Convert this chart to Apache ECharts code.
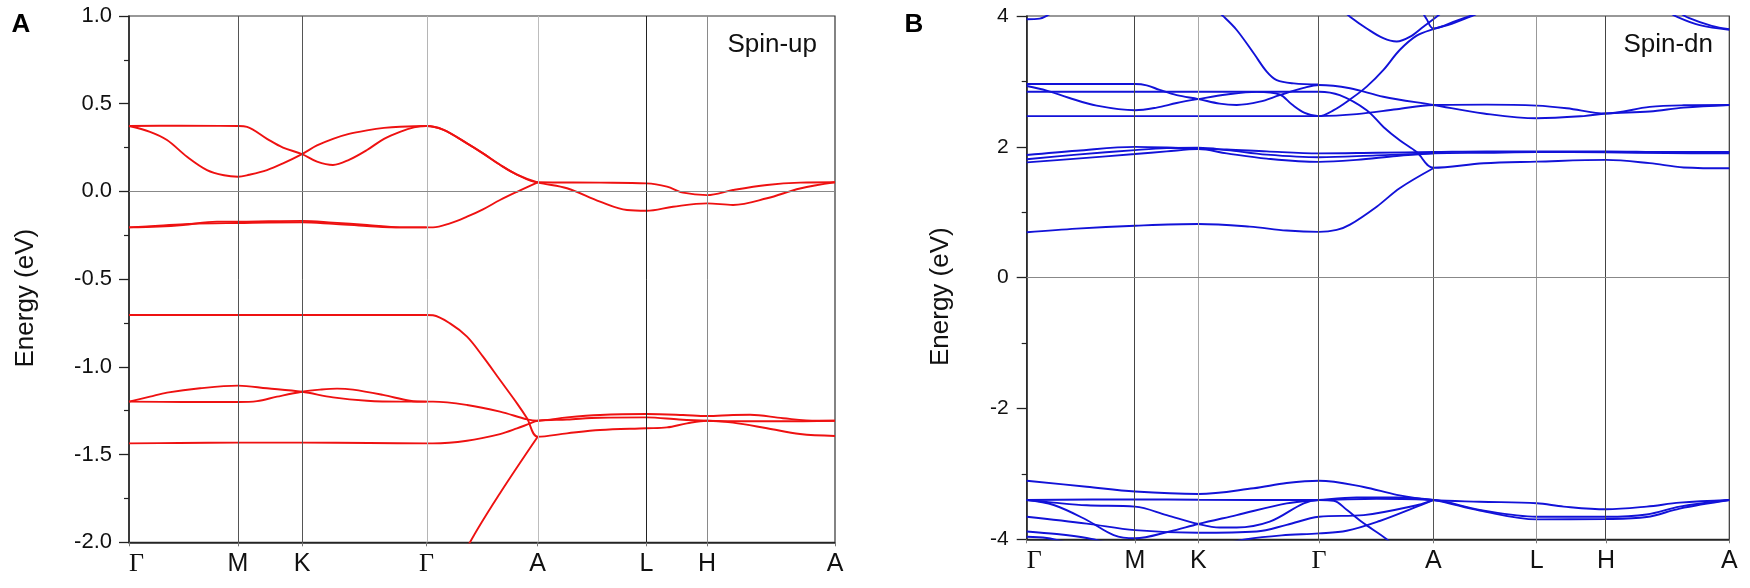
<!DOCTYPE html>
<html><head><meta charset="utf-8">
<script src="https://cdn.jsdelivr.net/npm/echarts@6/dist/echarts.min.js"></script>
<style>html,body{margin:0;padding:0;background:#fff}#c{width:1750px;height:588px}</style>
</head><body><div id="c"></div>
<script>
// ---- high-symmetry path labels and positions ----
const kLabels = ['Γ','M','K','Γ','A','L','H','A'];
const kTicksA = [0, 1.09, 1.73, 2.975, 4.087, 5.175, 5.78, 7.06];
const kTicksB = [0, 1.083, 1.716, 2.923, 4.066, 5.10, 5.793, 7.026];
const yTicksA = [-2.0, -1.5, -1.0, -0.5, 0.0, 0.5, 1.0];
const yTicksB = [-4, -2, 0, 2, 4];

// ---- Spin-up bands (panel A) ----
const up1 = [[0,0.373],[0.5,0.375],[1.09,0.373],[1.18,0.368],[1.38,0.30],[1.54,0.25],[1.73,0.213],[1.88,0.17],[2.04,0.151],[2.2,0.18],[2.38,0.236],[2.55,0.30],[2.71,0.34],[2.85,0.365],[2.975,0.373],[3.14,0.352],[3.38,0.274],[3.54,0.217],[3.71,0.152],[3.88,0.096],[4.087,0.052],[4.71,0.05],[5.175,0.046],[5.38,0.027],[5.54,-0.007],[5.78,-0.021],[6.04,0.008],[6.38,0.037],[6.71,0.05],[7.06,0.052]];
const up2 = [[0,0.373],[0.21,0.34],[0.38,0.293],[0.58,0.198],[0.78,0.122],[0.95,0.092],[1.09,0.084],[1.2,0.095],[1.38,0.122],[1.54,0.16],[1.73,0.213],[1.88,0.262],[2.04,0.300],[2.2,0.328],[2.38,0.348],[2.55,0.362],[2.71,0.369],[2.975,0.373],[3.14,0.352],[3.38,0.274],[3.54,0.217],[3.71,0.152],[3.88,0.096],[4.087,0.052],[4.38,0.018],[4.71,-0.058],[4.98,-0.106],[5.175,-0.11],[5.44,-0.087],[5.78,-0.068],[6.04,-0.077],[6.38,-0.039],[6.71,0.017],[7.06,0.052]];
const up3 = [[0,-0.205],[0.3,-0.2],[0.54,-0.191],[0.88,-0.172],[1.09,-0.172],[1.4,-0.17],[1.73,-0.168],[2.04,-0.178],[2.38,-0.191],[2.71,-0.205],[2.975,-0.205],[3.04,-0.205],[3.21,-0.182],[3.38,-0.144],[3.54,-0.102],[3.71,-0.049],[3.88,-0.002],[4.087,0.052]];
const up4 = [[0,-0.205],[0.3,-0.195],[0.6,-0.185],[1.09,-0.18],[1.73,-0.176],[2.04,-0.185],[2.38,-0.197],[2.71,-0.205],[2.975,-0.205]];
const up5 = [[0,-0.704],[1.5,-0.704],[2.975,-0.704],[3.04,-0.706],[3.21,-0.752],[3.38,-0.828],[3.54,-0.942],[3.71,-1.075],[3.88,-1.208],[3.98,-1.293],[4.087,-1.398],[4.38,-1.379],[4.71,-1.36],[5.175,-1.35],[5.38,-1.345],[5.58,-1.322],[5.78,-1.307],[6.04,-1.318],[6.38,-1.35],[6.71,-1.383],[7.06,-1.394]];
const up6 = [[0,-1.198],[0.21,-1.17],[0.38,-1.147],[0.71,-1.122],[1.09,-1.107],[1.38,-1.122],[1.73,-1.142],[2.04,-1.174],[2.38,-1.193],[2.71,-1.198],[2.975,-1.198],[3.04,-1.198],[3.38,-1.217],[3.71,-1.255],[3.98,-1.299],[4.087,-1.307],[4.38,-1.288],[4.71,-1.274],[5.175,-1.269],[5.54,-1.274],[5.78,-1.28],[6.04,-1.274],[6.21,-1.273],[6.54,-1.293],[6.88,-1.307],[7.06,-1.307]];
const up7 = [[0,-1.198],[0.54,-1.2],[1.09,-1.2],[1.28,-1.195],[1.48,-1.17],[1.73,-1.142],[1.91,-1.130],[2.08,-1.124],[2.24,-1.13],[2.54,-1.16],[2.81,-1.193],[2.975,-1.198]];
const up8 = [[0,-1.436],[0.5,-1.434],[1.09,-1.432],[1.73,-1.432],[2.4,-1.434],[2.975,-1.436],[3.04,-1.436],[3.38,-1.421],[3.71,-1.383],[3.88,-1.351],[4.0,-1.325],[4.087,-1.307],[4.38,-1.30],[4.71,-1.29],[5.175,-1.288],[5.5,-1.30],[5.78,-1.307],[6.1,-1.31],[6.5,-1.31],[7.06,-1.307]];
const up9 = [[2.975,-2.45],[3.2,-2.25],[3.41,-2.0],[3.71,-1.72],[4.087,-1.398]];

// ---- Spin-down bands (panel B) ----
const dnU1 = [[0,2.47],[1.0,2.47],[2.0,2.47],[2.923,2.47],[3.3,2.50],[3.7,2.575],[4.066,2.64],[4.6,2.645],[5.10,2.63],[5.40,2.59],[5.793,2.51],[6.23,2.61],[6.57,2.635],[7.026,2.64]];
const dnU2 = [[0,2.843],[1.5,2.843],[2.923,2.843],[3.13,2.79],[3.40,2.56],[3.57,2.30],[3.73,2.10],[3.90,1.92],[4.066,1.68],[4.57,1.748],[5.10,1.773],[5.793,1.80],[6.23,1.75],[6.57,1.685],[7.026,1.672]];
const dnU3 = [[0,2.96],[0.6,2.96],[1.083,2.96],[1.2,2.94],[1.33,2.87],[1.5,2.79],[1.716,2.73],[1.93,2.66],[2.1,2.64],[2.33,2.69],[2.53,2.79],[2.77,2.90],[2.923,2.945],[3.233,2.895],[3.566,2.766],[4.066,2.64],[4.57,2.51],[5.10,2.436],[5.57,2.47],[5.793,2.51],[6.23,2.54],[6.57,2.60],[7.026,2.64]];
const dnU4 = [[0,2.93],[0.2,2.86],[0.42,2.75],[0.7,2.63],[1.083,2.56],[1.3,2.60],[1.5,2.67],[1.716,2.73],[2.0,2.80],[2.3,2.84],[2.53,2.80],[2.65,2.65],[2.78,2.52],[2.923,2.47],[3.07,2.56],[3.23,2.72],[3.40,2.92],[3.57,3.18],[3.73,3.48],[3.90,3.70],[4.066,3.80],[4.25,3.88],[4.45,4.0],[4.6,4.1]];
const dnU5 = [[1.85,4.15],[1.97,3.99],[2.10,3.786],[2.27,3.43],[2.40,3.15],[2.50,3.02],[2.67,2.97],[2.923,2.955]];
const dnU6 = [[3.15,4.1],[3.233,3.99],[3.40,3.81],[3.566,3.66],[3.70,3.61],[3.83,3.68],[3.97,3.84],[4.066,3.95],[4.15,4.05]];
const dnU7 = [[3.95,4.08],[4.0,3.95],[4.066,3.81],[4.3,3.93],[4.55,4.06]];
const dnU8 = [[6.40,4.08],[6.50,3.99],[6.73,3.86],[7.026,3.79]];
const dnU9 = [[6.50,4.08],[6.62,3.97],[6.85,3.85],[7.026,3.80]];
const dnU10 = [[0,3.95],[0.13,3.96],[0.22,4.02],[0.3,4.1]];
const dnM1 = [[0,1.875],[0.5,1.94],[1.083,2.0],[1.4,1.99],[1.716,1.97],[2.0,1.96],[2.4,1.93],[2.923,1.90],[3.5,1.91],[4.066,1.92],[4.6,1.93],[5.10,1.93],[5.793,1.93],[6.4,1.92],[7.026,1.92]];
const dnM2 = [[0,1.81],[0.5,1.88],[1.083,1.95],[1.4,1.98],[1.716,1.985],[2.0,1.95],[2.4,1.88],[2.923,1.84],[3.5,1.87],[4.066,1.90],[4.6,1.91],[5.10,1.92],[5.793,1.915],[6.4,1.905],[7.026,1.90]];
const dnM3 = [[0,1.763],[0.5,1.82],[1.083,1.89],[1.4,1.93],[1.716,1.965],[2.0,1.90],[2.4,1.82],[2.923,1.77],[3.3,1.80],[3.7,1.86],[4.066,1.90]];
const dnL = [[0,0.693],[0.5,0.75],[1.083,0.794],[1.716,0.82],[2.23,0.78],[2.6,0.72],[2.923,0.70],[3.10,0.73],[3.233,0.81],[3.50,1.085],[3.733,1.37],[4.066,1.672]];
const dnD1 = [[0,-3.104],[0.6,-3.196],[1.083,-3.27],[1.716,-3.308],[2.27,-3.22],[2.6,-3.14],[2.923,-3.104],[3.37,-3.20],[3.70,-3.32],[4.066,-3.40],[4.53,-3.425],[5.10,-3.45],[5.37,-3.50],[5.793,-3.54],[6.2,-3.50],[6.53,-3.44],[7.026,-3.40]];
const dnD2 = [[0,-3.40],[1.083,-3.39],[1.716,-3.395],[2.923,-3.40],[3.5,-3.38],[4.066,-3.40],[4.53,-3.55],[5.10,-3.655],[5.793,-3.655],[6.2,-3.62],[6.53,-3.50],[7.026,-3.40]];
const dnD3 = [[0,-3.40],[0.27,-3.476],[0.60,-3.705],[0.87,-3.935],[1.083,-3.985],[1.43,-3.88],[1.716,-3.766],[2.10,-3.63],[2.60,-3.45],[2.923,-3.40],[3.3,-3.36],[3.7,-3.36],[4.066,-3.40],[4.53,-3.56],[5.10,-3.695],[5.793,-3.69],[6.2,-3.66],[6.53,-3.53],[7.026,-3.40]];
const dnD4 = [[0,-3.40],[0.27,-3.44],[0.60,-3.48],[1.083,-3.50],[1.4,-3.63],[1.716,-3.766],[1.93,-3.82],[2.1,-3.82],[2.43,-3.73],[2.77,-3.45],[2.923,-3.40],[3.07,-3.41],[3.2,-3.55],[3.37,-3.756],[3.60,-4.0],[3.8,-4.3]];
const dnD5 = [[0,-3.655],[0.6,-3.76],[1.083,-3.86],[1.716,-3.90],[2.3,-3.88],[2.6,-3.78],[2.923,-3.655],[3.37,-3.63],[3.9,-3.48],[4.066,-3.40]];
const dnD6 = [[1.9,-4.1],[2.2,-4.0],[2.55,-3.94],[2.923,-3.91],[3.2,-3.87],[3.53,-3.72],[3.87,-3.52],[4.066,-3.40]];
const dnD7 = [[0,-3.88],[0.3,-3.92],[0.6,-3.98],[0.8,-4.05]];
const dnD8 = [[0,-3.96],[0.2,-3.98],[0.4,-4.05]];

const bandsUp = [up1, up2, up3, up4, up5, up6, up7, up8, up9];
const bandsDn = [dnU1, dnU2, dnU3, dnU4, dnU5, dnU6, dnU7, dnU8, dnU9, dnU10, dnM1, dnM2, dnM3, dnL, dnD1, dnD2, dnD3, dnD4, dnD5, dnD6, dnD7, dnD8];

// vertical guide colours (M,K,Γ,A,L,H)
const vColA = ['#555','#555','#b5b5b5','#bdbdbd','#222','#8a8a8a'];
const vColB = ['#444','#a8a8a8','#555','#555','#999','#444'];

const SANS = '"Liberation Sans", Arial, Helvetica, sans-serif';
const SERIF = '"Liberation Serif", "Times New Roman", serif';

function nearestIdx(arr, v){ let b=0, d=1e9; arr.forEach((a,i)=>{ if(Math.abs(a-v)<d){d=Math.abs(a-v); b=i;} }); return b; }

function xAxisFor(ticks, gi){
  return {
    type:'value', gridIndex:gi, min:ticks[0], max:ticks[ticks.length-1],
    axisLine:{show:true, onZero:false, lineStyle:{color:'#222', width:1.5}},
    axisTick:{show:true, customValues:ticks, length:4, inside:false, lineStyle:{color:'#777', width:1}},
    axisLabel:{show:true, customValues:ticks, margin:9, alignMinLabel:'left', showMinLabel:true, showMaxLabel:true,
      formatter:(v)=>{ const s = kLabels[nearestIdx(ticks, v)]; return s==='Γ' ? '{g|Γ}' : '{s|'+s+'}'; },
      rich:{ g:{fontFamily:SERIF, fontSize:26, color:'#111'}, s:{fontFamily:SANS, fontSize:25, color:'#111'} } },
    splitLine:{show:false}
  };
}
function yAxisFor(gi, mn, mx, itv, ticks, dec, fs, margin, gap){
  return {
    type:'value', gridIndex:gi, min:mn, max:mx, interval:itv,
    axisLine:{show:true, lineStyle:{color:'#222', width:1.5}},
    axisTick:{show:true, inside:false, length:10, lineStyle:{color:'#222', width:1.3}},
    minorTick:{show:true, splitNumber:2, length:5, lineStyle:{color:'#222', width:1.2}},
    axisLabel:{customValues:ticks, margin:margin, fontSize:fs, fontFamily:SANS, color:'#111', showMinLabel:true, showMaxLabel:true,
      formatter:(v)=> v.toFixed(dec)},
    splitLine:{show:false},
    name:'Energy (eV)', nameLocation:'middle', nameGap:gap,
    nameTextStyle:{fontSize:26, fontFamily:SANS, color:'#111', padding:[0,38,0,0]}
  };
}

function bandSeries(data, gi, color){
  return {type:'line', xAxisIndex:gi, yAxisIndex:gi, data:data, showSymbol:false, smooth:0.35,
    lineStyle:{color:color, width:1.9}, silent:true, animation:false, clip:true, z:3};
}
function guideSeries(ticks, cols, gi){
  const inner = ticks.slice(1, -1);
  return {type:'line', xAxisIndex:gi, yAxisIndex:gi, data:[], silent:true, animation:false, z:1,
    markLine:{symbol:'none', silent:true, animation:false, label:{show:false},
      data: inner.map((v,i)=>({xAxis:v, lineStyle:{color:cols[i], width:1, type:'solid'}}))
        .concat([{yAxis:0, lineStyle:{color:'#888', width:1, type:'solid'}}])}};
}

const series = [guideSeries(kTicksA, vColA, 0), guideSeries(kTicksB, vColB, 1)]
  .concat(bandsUp.map(b=>bandSeries(b, 0, '#ee1111')))
  .concat(bandsDn.map(b=>bandSeries(b, 1, '#1212d8')));

const option = {
  backgroundColor:'#fff',
  animation:false,
  grid:[
    {left:129, top:16, width:706, height:526.3, show:true, borderColor:'#333', borderWidth:1.2, backgroundColor:'transparent'},
    {left:1026.7, top:16, width:702.6, height:523.3, show:true, borderColor:'#333', borderWidth:1.2, backgroundColor:'transparent'}
  ],
  xAxis:[xAxisFor(kTicksA,0), xAxisFor(kTicksB,1)],
  yAxis:[yAxisFor(0,-2,1,0.5,yTicksA,1,22,17,90), yAxisFor(1,-4,4,2,yTicksB,0,21,18,73)],
  series:series,
  graphic:[
    {type:'text', x:21, y:25, style:{text:'A', fontSize:26, fontWeight:'bold', fontFamily:SANS, fill:'#000', textAlign:'center', align:'center', textVerticalAlign:'middle', verticalAlign:'middle'}},
    {type:'text', x:914, y:25, style:{text:'B', fontSize:26, fontWeight:'bold', fontFamily:SANS, fill:'#000', textAlign:'center', align:'center', textVerticalAlign:'middle', verticalAlign:'middle'}},
    {type:'text', x:817, y:45, style:{text:'Spin-up', fontSize:26, fontFamily:SANS, fill:'#111', textAlign:'right', align:'right', textVerticalAlign:'middle', verticalAlign:'middle'}},
    {type:'text', x:1713, y:45, style:{text:'Spin-dn', fontSize:26, fontFamily:SANS, fill:'#111', textAlign:'right', align:'right', textVerticalAlign:'middle', verticalAlign:'middle'}}
  ]
};
const chart = echarts.init(document.getElementById('c'));
chart.setOption(option);
</script></body></html>
